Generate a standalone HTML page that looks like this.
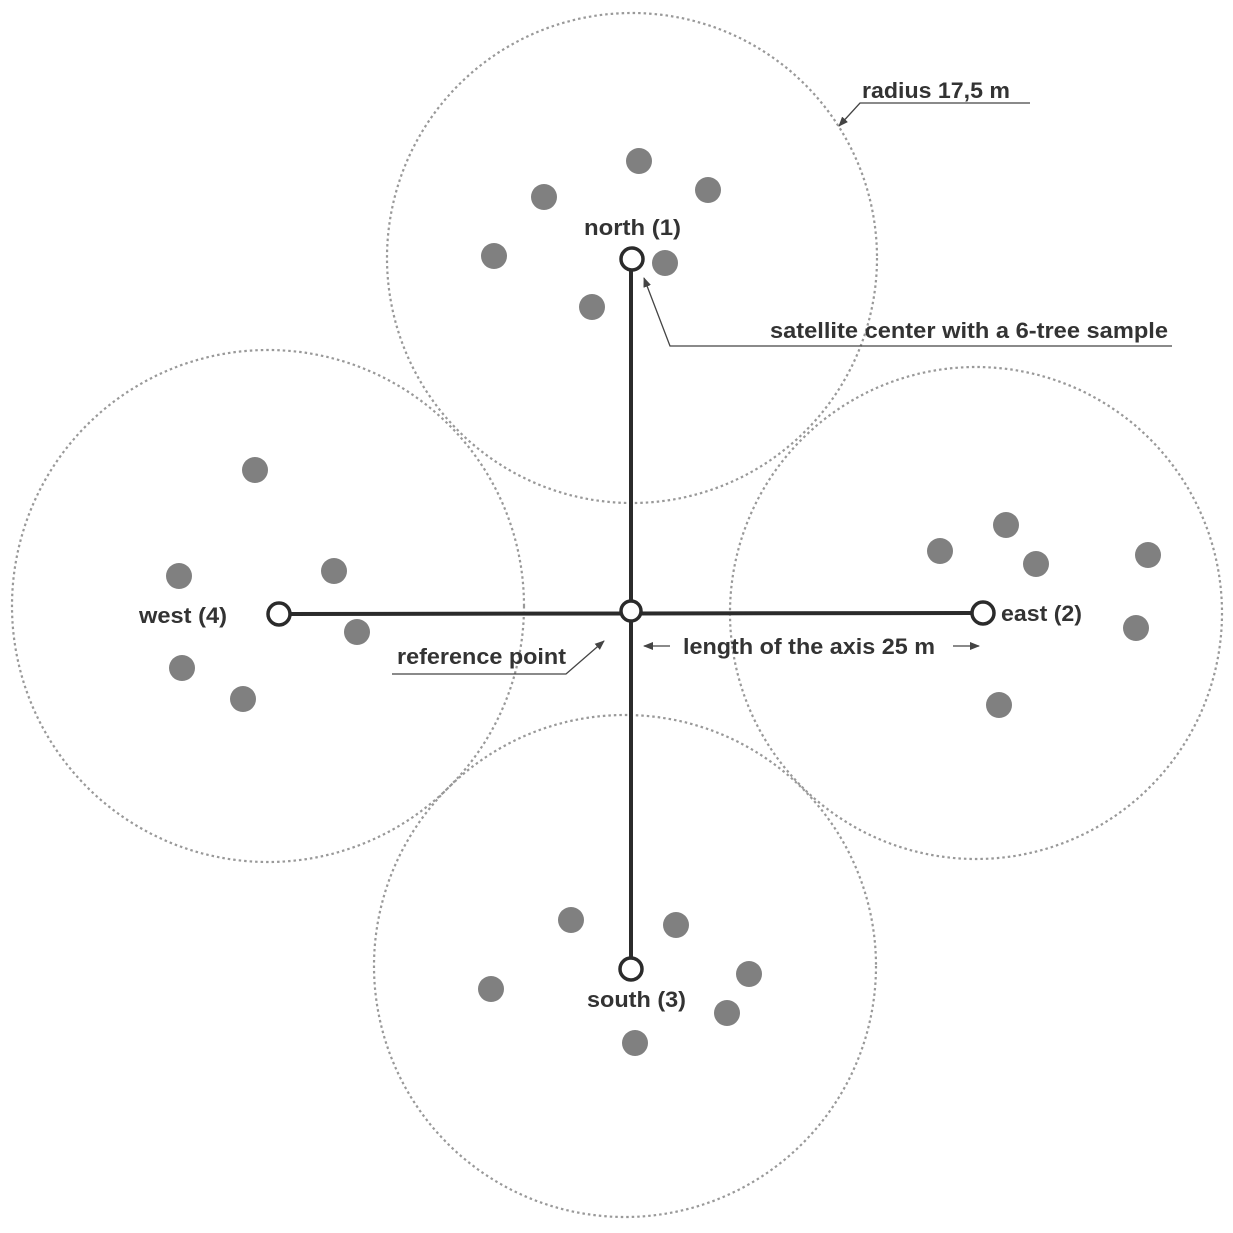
<!DOCTYPE html>
<html><head><style>html,body{margin:0;padding:0;background:#fff}svg{display:block}</style></head><body>
<svg width="1233" height="1233" viewBox="0 0 1233 1233" xmlns="http://www.w3.org/2000/svg">
<defs><marker id="ar" markerWidth="10" markerHeight="8" refX="9" refY="4" orient="auto" markerUnits="userSpaceOnUse"><path d="M0,0 L10,4 L0,8 z" fill="#444"/></marker></defs>
<g fill="none" stroke="#999" stroke-width="2.2" stroke-dasharray="2.5 3">
<circle cx="632" cy="258" r="245"/>
<circle cx="976" cy="613" r="246"/>
<circle cx="268" cy="606" r="256"/>
<circle cx="625" cy="966" r="251"/>
</g>
<g fill="#808080">
<circle cx="639" cy="161" r="13"/><circle cx="544" cy="197" r="13"/><circle cx="708" cy="190" r="13"/><circle cx="494" cy="256" r="13"/><circle cx="665" cy="263" r="13"/><circle cx="592" cy="307" r="13"/>
<circle cx="255" cy="470" r="13"/><circle cx="179" cy="576" r="13"/><circle cx="334" cy="571" r="13"/><circle cx="357" cy="632" r="13"/><circle cx="182" cy="668" r="13"/><circle cx="243" cy="699" r="13"/>
<circle cx="1006" cy="525" r="13"/><circle cx="940" cy="551" r="13"/><circle cx="1036" cy="564" r="13"/><circle cx="1148" cy="555" r="13"/><circle cx="1136" cy="628" r="13"/><circle cx="999" cy="705" r="13"/>
<circle cx="571" cy="920" r="13"/><circle cx="676" cy="925" r="13"/><circle cx="749" cy="974" r="13"/><circle cx="491" cy="989" r="13"/><circle cx="727" cy="1013" r="13"/><circle cx="635" cy="1043" r="13"/>
</g>
<g stroke="#2b2b2b" stroke-width="4" fill="none">
<line x1="631" y1="270" x2="631" y2="958"/>
<line x1="291" y1="614" x2="971" y2="613"/>
</g>
<g stroke="#2b2b2b" stroke-width="3.5" fill="#fff">
<circle cx="632" cy="259" r="11"/><circle cx="631" cy="611" r="10"/><circle cx="983" cy="613" r="11"/><circle cx="279" cy="614" r="11"/><circle cx="631" cy="969" r="11"/>
</g>
<g stroke="#444" stroke-width="1.3" fill="none">
<polyline points="1030,103 860,103 839,126" marker-end="url(#ar)"/>
<polyline points="1172,346 670,346 644,278" marker-end="url(#ar)"/>
<polyline points="392,674 566,674 604,641" marker-end="url(#ar)"/>
<line x1="670" y1="646" x2="644" y2="646" marker-end="url(#ar)"/>
<line x1="953" y1="646" x2="979" y2="646" marker-end="url(#ar)"/>
</g>
<g font-family="Liberation Sans, sans-serif" font-weight="bold" font-size="22" fill="#333" lengthAdjust="spacingAndGlyphs">
<text x="862" y="98" textLength="148" lengthAdjust="spacingAndGlyphs">radius 17,5 m</text>
<text x="584" y="235" textLength="97" lengthAdjust="spacingAndGlyphs">north (1)</text>
<text x="770" y="338" textLength="398" lengthAdjust="spacingAndGlyphs">satellite center with a 6-tree sample</text>
<text x="139" y="623" textLength="88" lengthAdjust="spacingAndGlyphs">west (4)</text>
<text x="1001" y="621" textLength="81" lengthAdjust="spacingAndGlyphs">east (2)</text>
<text x="397" y="664" textLength="169" lengthAdjust="spacingAndGlyphs">reference point</text>
<text x="683" y="654" textLength="252" lengthAdjust="spacingAndGlyphs">length of the axis 25 m</text>
<text x="587" y="1007" textLength="99" lengthAdjust="spacingAndGlyphs">south (3)</text>
</g>
</svg>
</body></html>
